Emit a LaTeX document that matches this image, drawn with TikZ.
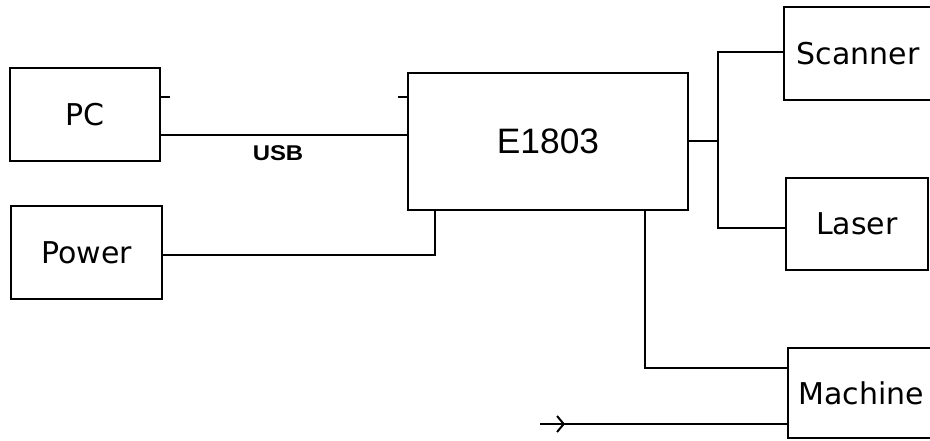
\documentclass[tikz,border=0pt]{standalone}
\usepackage{fontspec}
\setmainfont{DejaVu Sans}
\newfontfamily\arialf{Liberation Sans}
\newfontfamily\usbf{Liberation Sans}[FakeStretch=1.12]
\usetikzlibrary{arrows.meta,calc}
\tikzset{
  blk/.style={draw=black, line width=2.2pt, inner sep=0pt, outer sep=0pt, font=\fontsize{22.5}{24}\selectfont},
  wire/.style={draw=black, line width=2.2pt},
}
\begin{document}
\begin{tikzpicture}[x=0.75pt, y=-0.75pt]
\useasboundingbox (0,0) rectangle (930,440);
\clip (0,0) rectangle (930,440);
\fill[white] (0,0) rectangle (930,440);
\node[blk, minimum width=112.5pt, minimum height=69.75pt] (pc) at (85,114.5) {PC};
\node[blk, minimum width=113.25pt, minimum height=69.75pt] (power) at (86.5,252.5) {Power};
\node[blk, minimum width=210pt, minimum height=102.75pt, font=\arialf\fontsize{26.5}{28}\selectfont] (e) at (548,141.5) {E1803};
\node[blk, minimum width=111pt, minimum height=69.75pt] (scanner) at (858,53.5) {Scanner};
\node[blk, minimum width=106.5pt, minimum height=69pt] (laser) at (857,224) {Laser};
\node[blk, minimum width=109.5pt, minimum height=67.5pt] (machine) at (861,393) {Machine};
% USB link
\draw[wire] (pc.east |- 0,135) -- (e.west |- 0,135);
\draw[wire] (pc.east |- 0,97) -- ++(10,0);
\draw[wire] (e.west |- 0,97) -- ++(-10,0);
\node[font=\usbf\bfseries\fontsize{16}{18}\selectfont] (usb) at (278,153) {USB};
% power
\draw[wire] (power.east |- 0,255) -| ($(e.south west)+(27,0)$);
% scanner/laser
\coordinate (j) at (718,141);
\draw[wire] (e.east |- j) -- (j);
\draw[wire] (scanner.west |- 0,52) -| (j);
\draw[wire] (laser.west |- 0,228) -| (j);
% machine
\draw[wire] ($(e.south west)+(237,0)$) |- (machine.west |- 0,368);
\coordinate (in) at (540,424);
\draw[wire] (in) -- (machine.west |- in);
\draw[wire, -{Straight Barb[length=5pt,width=12pt,line width=1.5pt]}] (in) -- (565,424);
\end{tikzpicture}
\end{document}
